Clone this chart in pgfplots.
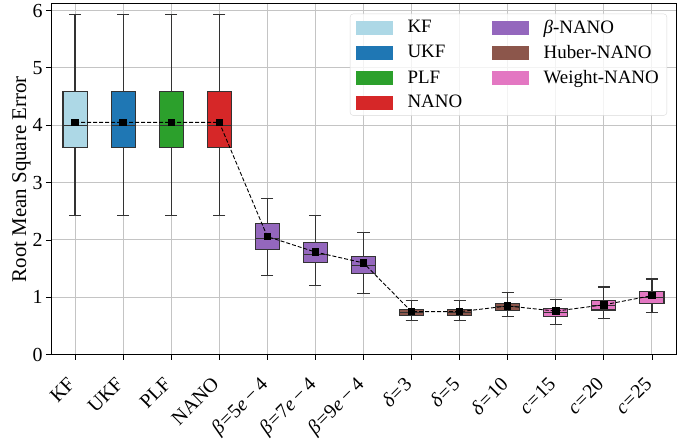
\documentclass[border=0pt]{standalone}
\usepackage{fontspec}
\setmainfont{Liberation Serif}
\usepackage{pgfplots}
\pgfplotsset{compat=1.18}
\usepgfplotslibrary{statistics}
\definecolor{kfc}{HTML}{ADD8E6}
\definecolor{ukfc}{HTML}{1F77B4}
\definecolor{plfc}{HTML}{2CA02C}
\definecolor{nanoc}{HTML}{D62728}
\definecolor{betac}{HTML}{9467BD}
\definecolor{huberc}{HTML}{8C564B}
\definecolor{weightc}{HTML}{E377C2}
\definecolor{gridc}{HTML}{C4C4C4}
\pgfplotsset{
  bx/.style n args={7}{boxplot prepared={draw direction=y, draw position=#1,
     lower whisker=#2, lower quartile=#3, median=#4, upper quartile=#5, upper whisker=#6,
     box extend=0.5, whisker extend=0.25},
     fill=#7, draw=black!80, line width=1.1bp, forget plot},
}
\newcommand{\legbox}[1]{\addlegendimage{legend image code/.code={\fill[#1, fill opacity=1, sharp corners] (0bp,-6.5bp) rectangle (36bp,6.5bp);}}}
\newcommand{\mm}{\kern3.5bp−\kern3.5bp}
\newcommand{\eq}{\kern1bp=\kern1bp}
\begin{document}
\begin{tikzpicture}[font=\fontsize{20}{23}\selectfont]
\begin{axis}[
  scale only axis,
  width=625bp, height=351bp,
  xmin=-0.5, xmax=12.5,
  ymin=0, ymax=6.12,
  ytick={0,1,2,3,4,5,6},
  xtick={0,1,...,12},
  xticklabels={KF,UKF,PLF,NANO,
    {\textit{β}\eq5\textit{e}\mm4},
    {\textit{β}\eq7\textit{e}\mm4},
    {\textit{β}\eq9\textit{e}\mm4},
    {\textit{δ}\eq3},
    {\textit{δ}\eq5},
    {\textit{δ}\eq10},
    {\textit{c}\eq15},
    {\textit{c}\eq20},
    {\textit{c}\eq25}},
  xticklabel style={rotate=45, anchor=north east, xshift=-14bp, yshift=-2bp},
  /pgf/number format/assume math mode=true,
  ylabel={Root Mean Square Error},
  ylabel style={font=\fontsize{21}{24}\selectfont},
  ylabel shift=-5bp,
  grid=major,
  major grid style={gridc, line width=1bp},
  tick align=outside,
  xtick pos=lower, ytick pos=left,
  major tick length=5bp,
  tick style={black, line width=0.9bp},
  axis line style={black, line width=1bp},
  legend columns=2,
  legend cell align=left,
  legend style={at={(1,1)}, anchor=north east, xshift=-9bp, yshift=-10bp,
    font=\fontsize{19}{22}\selectfont,
    draw=black!15, rounded corners=3bp, fill=white, fill opacity=0.8, text opacity=1,
    row sep=6.5bp, inner xsep=6bp, inner ysep=4bp,
    /tikz/column 2/.style={column sep=28bp},
    /tikz/every odd column/.append style={column sep=13bp}},
]
% legend entries (row-wise order)
\legbox{kfc}\addlegendentry{KF}
\legbox{betac}\addlegendentry{\textit{β}-NANO}
\legbox{ukfc}\addlegendentry{UKF}
\legbox{huberc}\addlegendentry{Huber-NANO}
\legbox{plfc}\addlegendentry{PLF}
\legbox{weightc}\addlegendentry{Weight-NANO}
\legbox{nanoc}\addlegendentry{NANO}

\addplot[bx={0}{2.42}{3.61}{4.00}{4.59}{5.93}{kfc}] coordinates {};
\addplot[bx={1}{2.42}{3.61}{4.00}{4.59}{5.93}{ukfc}] coordinates {};
\addplot[bx={2}{2.42}{3.61}{4.00}{4.59}{5.93}{plfc}] coordinates {};
\addplot[bx={3}{2.42}{3.61}{4.00}{4.59}{5.93}{nanoc}] coordinates {};
\addplot[bx={4}{1.38}{1.84}{2.03}{2.28}{2.73}{betac}] coordinates {};
\addplot[bx={5}{1.21}{1.60}{1.75}{1.95}{2.43}{betac}] coordinates {};
\addplot[bx={6}{1.06}{1.42}{1.56}{1.71}{2.13}{betac}] coordinates {};
\addplot[bx={7}{0.59}{0.68}{0.74}{0.79}{0.95}{huberc}] coordinates {};
\addplot[bx={8}{0.59}{0.68}{0.74}{0.79}{0.95}{huberc}] coordinates {};
\addplot[bx={9}{0.67}{0.77}{0.84}{0.90}{1.09}{huberc}] coordinates {};
\addplot[bx={10}{0.53}{0.67}{0.74}{0.81}{0.97}{weightc}] coordinates {};
\addplot[bx={11}{0.63}{0.78}{0.86}{0.95}{1.18}{weightc}] coordinates {};
\addplot[bx={12}{0.73}{0.90}{1.00}{1.10}{1.32}{weightc}] coordinates {};

% means
\addplot[black, line width=0.9bp, dash pattern=on 4bp off 2bp, mark=square*, mark size=3.2bp,
  mark options={solid, fill=black}, forget plot] coordinates {
  (0,4.05) (1,4.05) (2,4.05) (3,4.05) (4,2.06) (5,1.79) (6,1.60)
  (7,0.75) (8,0.75) (9,0.85) (10,0.76) (11,0.87) (12,1.03)};
\end{axis}
\path (current axis.south west) ++(-51bp,-80bp) coordinate (bl);
\path (current axis.north east) ++(16bp,3.7bp) coordinate (tr);
\path (bl) rectangle (tr);
\end{tikzpicture}
\end{document}
